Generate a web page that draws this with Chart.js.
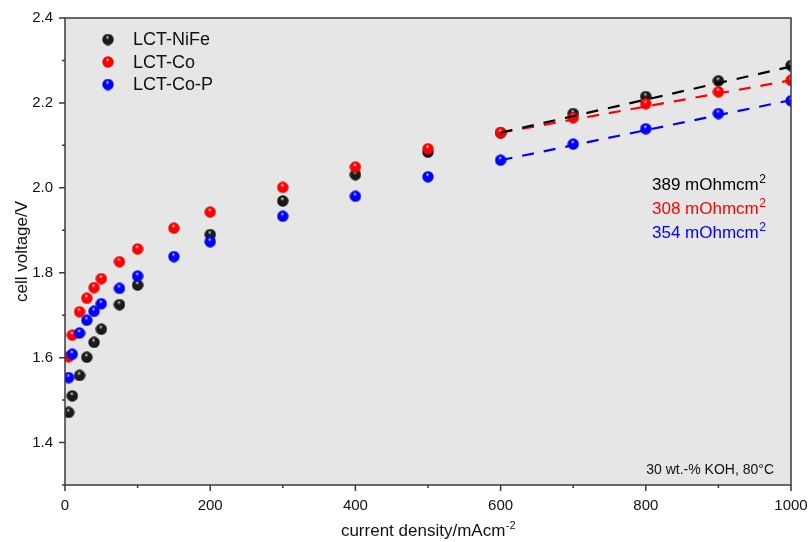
<!DOCTYPE html>
<html>
<head>
<meta charset="utf-8">
<script src="https://cdn.jsdelivr.net/npm/chart.js@4/dist/chart.umd.min.js"></script>
<style>
  html, body { margin: 0; padding: 0; background: #ffffff; }
  #wrap { width: 808px; height: 542px; }
</style>
</head>
<body>
<div id="wrap"><canvas id="c" width="808" height="542"></canvas></div>
<script>
// Polarisation curves: current density (mA/cm²) vs cell voltage (V)
const currentDensity = [5, 10, 20, 30, 40, 50, 75, 100, 150, 200, 300, 400, 500, 600, 700, 800, 900, 1000];
const voltNiFe = [1.471, 1.510, 1.558, 1.601, 1.636, 1.667, 1.725, 1.771, null, 1.890, 1.969, 2.031, 2.084, 2.130, 2.175, 2.215, 2.252, 2.288];
const voltCo   = [1.602, 1.653, 1.708, 1.740, 1.765, 1.786, 1.826, 1.856, 1.905, 1.943, 2.001, 2.049, 2.092, 2.130, 2.165, 2.198, 2.226, 2.253];
const voltCoP  = [1.553, 1.608, 1.658, 1.688, 1.709, 1.727, 1.763, 1.792, 1.838, 1.873, 1.933, 1.980, 2.026, 2.065, 2.103, 2.139, 2.175, 2.205];

const seriesNames  = ['LCT-NiFe', 'LCT-Co', 'LCT-Co-P'];
const seriesColors = ['#000000', '#ff0000', '#0000ff'];
const ballShades   = [['#e0e0e0', '#1a1a1a', '#000000'], ['#ffe0e0', '#ff0000', '#e00000'], ['#d8d8ff', '#0000ff', '#0000e0']];

// Linear fits in the ohmic region: area resistance in mOhm·cm², fit start voltage at 600 mA/cm²
const fitResistance   = [389, 308, 354];
const fitStartVoltage = [2.130, 2.130, 2.065];
const fitRange        = [600, 1000];

const xTickValues = [0, 200, 400, 600, 800, 1000];
const yTickValues = [1.4, 1.6, 1.8, 2.0, 2.2, 2.4];

const FONT = '"Liberation Sans", Arial, Helvetica, sans-serif';
const TEXT = '#111111';

// glossy sphere marker
function makeBall(shades, size) {
  const c = document.createElement('canvas');
  c.width = size; c.height = size;
  const g = c.getContext('2d');
  const r = size / 2;
  const grad = g.createRadialGradient(r * 0.9, r * 0.55, 0.2, r, r, r);
  grad.addColorStop(0, shades[0]);
  grad.addColorStop(0.3, shades[1]);
  grad.addColorStop(0.8, shades[1]);
  grad.addColorStop(1, shades[2]);
  g.fillStyle = grad;
  g.beginPath();
  g.arc(r, r, r - 0.3, 0, Math.PI * 2);
  g.fill();
  return c;
}

const dataBalls   = ballShades.map(s => makeBall(s, 12));
const legendBalls = ballShades.map(s => makeBall(s, 12));

const seriesValues = [voltNiFe, voltCo, voltCoP];

const pointSets = seriesValues.map((vals, i) => ({
  type: 'scatter',
  label: seriesNames[i],
  data: currentDensity.map((x, k) => ({ x: x, y: vals[k] })).filter(p => p.y !== null),
  pointStyle: dataBalls[i],
  pointRadius: 6,
  showLine: false,
  order: 3 - i,
  clip: 0
}));

const fitSets = fitResistance.map((r, i) => ({
  type: 'line',
  label: seriesNames[i] + ' fit',
  data: fitRange.map(x => ({ x: x, y: fitStartVoltage[i] + (r / 1000) * (x - fitRange[0]) / 1000 })),
  borderColor: seriesColors[i],
  borderWidth: 2.2,
  borderDash: [12, 10],
  pointRadius: 0,
  fill: false,
  tension: 0,
  order: 0,
  clip: 0
}));

function drawSuperText(ctx, x, y, base, sup, size, supSize, color, align) {
  ctx.font = size + 'px ' + FONT;
  const wBase = ctx.measureText(base).width;
  ctx.font = supSize + 'px ' + FONT;
  const wSup = ctx.measureText(sup).width;
  let left = x;
  if (align === 'center') left = x - (wBase + wSup) / 2;
  if (align === 'right') left = x - (wBase + wSup);
  ctx.fillStyle = color;
  ctx.textAlign = 'left';
  ctx.textBaseline = 'alphabetic';
  ctx.font = size + 'px ' + FONT;
  ctx.fillText(base, left, y);
  ctx.font = supSize + 'px ' + FONT;
  ctx.fillText(sup, left + wBase + 0.5, y - size * 0.42);
}

const decorations = {
  id: 'decorations',
  beforeDraw(chart) {
    const { ctx, chartArea: a } = chart;
    ctx.save();
    ctx.fillStyle = '#e6e6e6';
    ctx.fillRect(a.left, a.top, a.right - a.left, a.bottom - a.top);
    ctx.restore();
  },
  afterDraw(chart) {
    const { ctx, chartArea: a, scales } = chart;
    const xs = scales.x, ys = scales.y;
    ctx.save();

    // frame
    ctx.strokeStyle = '#3a3a3a';
    ctx.lineWidth = 1.5;
    ctx.strokeRect(a.left, a.top, a.right - a.left, a.bottom - a.top);

    // major and minor tick marks, outward
    ctx.beginPath();
    for (let v = 0; v <= 1000; v += 100) {
      const px = xs.getPixelForValue(v);
      const len = v % 200 === 0 ? 6 : 3;
      ctx.moveTo(px, a.bottom);
      ctx.lineTo(px, a.bottom + len);
    }
    for (let k = 13; k <= 24; k++) {
      const py = ys.getPixelForValue(k / 10);
      const len = k % 2 === 0 ? 6 : 3;
      ctx.moveTo(a.left - len, py);
      ctx.lineTo(a.left, py);
    }
    ctx.stroke();

    // axis titles
    drawSuperText(ctx, (a.left + a.right) / 2, 536, 'current density/mAcm', '-2', 17, 11, TEXT, 'center');
    ctx.save();
    ctx.translate(22, (a.top + a.bottom) / 2);
    ctx.rotate(-Math.PI / 2);
    ctx.font = '17px ' + FONT;
    ctx.fillStyle = TEXT;
    ctx.textAlign = 'center';
    ctx.textBaseline = 'middle';
    ctx.fillText('cell voltage/V', 0, 0);
    ctx.restore();

    // legend
    const legendY = [39.5, 62, 84.5];
    seriesNames.forEach((name, i) => {
      ctx.drawImage(legendBalls[i], 108 - 6, legendY[i] - 6);
      ctx.font = '18px ' + FONT;
      ctx.fillStyle = TEXT;
      ctx.textAlign = 'left';
      ctx.textBaseline = 'middle';
      ctx.fillText(name, 133, legendY[i] + 1);
    });

    // fitted area resistances
    const resY = [190, 214, 238];
    fitResistance.forEach((r, i) => {
      drawSuperText(ctx, 652, resY[i], r + ' mOhmcm', '2', 17, 12, seriesColors[i], 'left');
    });

    // electrolyte conditions
    ctx.font = '14px ' + FONT;
    ctx.fillStyle = TEXT;
    ctx.textAlign = 'right';
    ctx.textBaseline = 'middle';
    ctx.fillText('30 wt.-% KOH, 80°C', 774, 470);

    ctx.restore();
  }
};

new Chart(document.getElementById('c'), {
  type: 'scatter',
  data: { datasets: [...fitSets, ...pointSets] },
  options: {
    responsive: false,
    animation: false,
    devicePixelRatio: 1,
    layout: { padding: { top: 18, right: 17, left: 0, bottom: 0 } },
    plugins: {
      legend: { display: false },
      tooltip: { enabled: false },
      title: { display: false }
    },
    scales: {
      x: {
        type: 'linear',
        min: 0,
        max: 1000,
        afterBuildTicks: s => { s.ticks = xTickValues.map(v => ({ value: v })); },
        afterFit: s => { s.height = 57; s.paddingLeft = 0; s.paddingRight = 0; },
        grid: { display: false, drawTicks: false },
        border: { display: false },
        ticks: {
          padding: 12,
          maxRotation: 0,
          autoSkip: false,
          color: TEXT,
          font: { family: FONT, size: 15 },
          callback: v => String(v)
        }
      },
      y: {
        type: 'linear',
        min: 1.3,
        max: 2.4,
        afterBuildTicks: s => { s.ticks = yTickValues.map(v => ({ value: v })); },
        afterFit: s => { s.width = 65; s.paddingTop = 0; s.paddingBottom = 0; },
        grid: { display: false, drawTicks: false },
        border: { display: false },
        ticks: {
          padding: 12,
          autoSkip: false,
          color: TEXT,
          font: { family: FONT, size: 15 },
          callback: v => Number(v).toFixed(1)
        }
      }
    }
  },
  plugins: [decorations]
});
</script>
</body>
</html>
